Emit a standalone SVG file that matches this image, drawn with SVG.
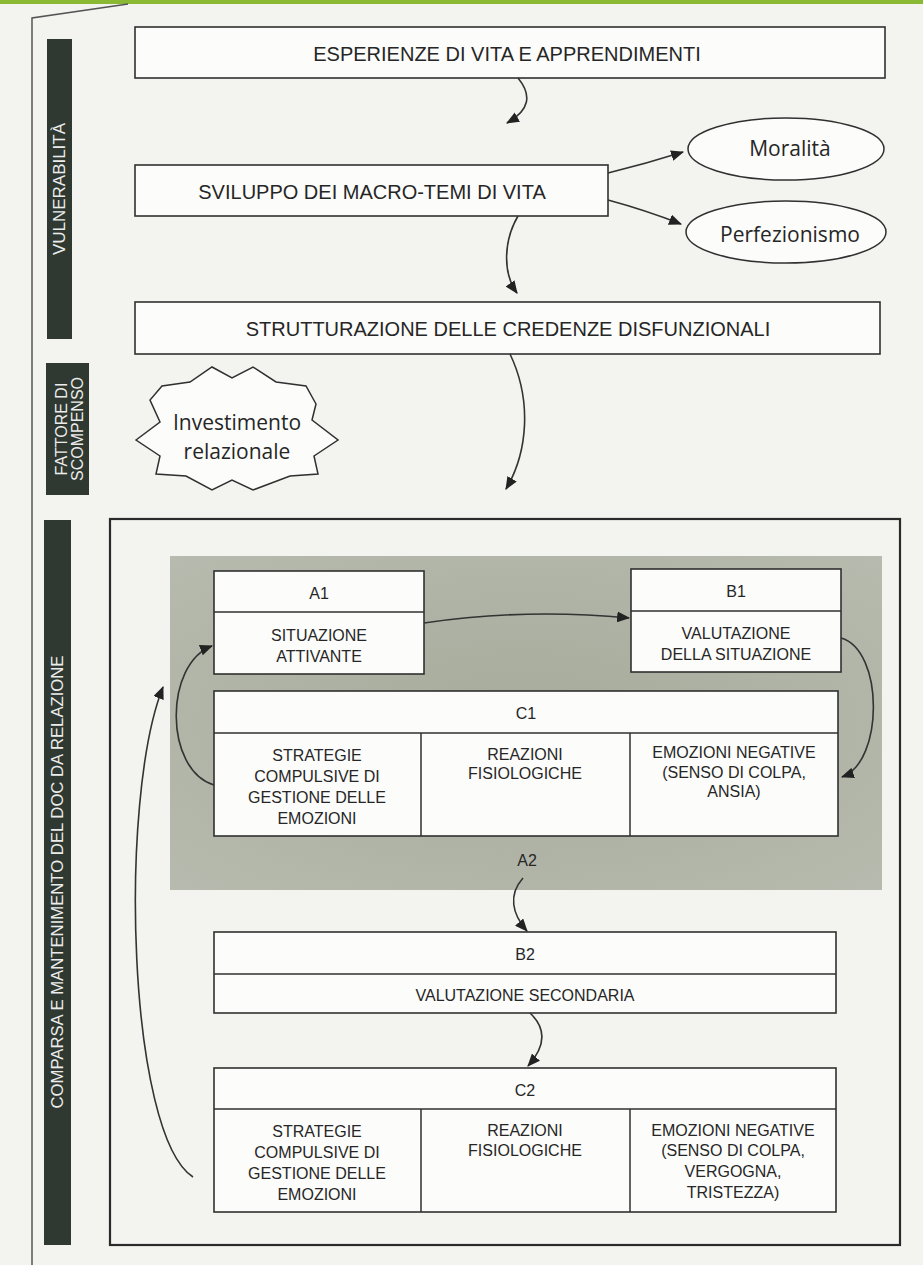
<svg xmlns="http://www.w3.org/2000/svg" width="923" height="1265" viewBox="0 0 923 1265">
<defs>
<style>
.bg{fill:#f3f3f0}
.box{fill:#fcfcfb;stroke:#303030;stroke-width:1.6}
.ln{stroke:#303030;stroke-width:1.5;fill:none}
.bar{fill:#2f3931}
.vt{font-family:"Liberation Sans",Arial,sans-serif;fill:#ececec;font-size:16px;text-anchor:middle;dominant-baseline:central}
.h{font-family:"Liberation Sans",Arial,sans-serif;fill:#262626;font-size:20px;text-anchor:middle;dominant-baseline:central}
.s{font-family:"Liberation Sans",Arial,sans-serif;fill:#262626;font-size:16px;text-anchor:middle;dominant-baseline:central}
.lc{font-family:"Open Sans","Liberation Sans",sans-serif;fill:#262626;font-size:21px;text-anchor:middle;dominant-baseline:central}
.conn{stroke:#333;stroke-width:1.6;fill:none;marker-end:url(#ah)}
</style>
<marker id="ah" viewBox="0 0 12 10" refX="11" refY="5" markerWidth="13" markerHeight="11" markerUnits="userSpaceOnUse" orient="auto">
<path d="M0,0 L12,5 L0,10 Z" fill="#222"/>
</marker>
<radialGradient id="panel" cx="0.5" cy="0.5" r="0.7">
<stop offset="0" stop-color="#a6ab9b"/>
<stop offset="1" stop-color="#b7baae"/>
</radialGradient>
</defs>
<rect class="bg" x="0" y="0" width="923" height="1265"/>
<rect x="0" y="0" width="923" height="4" fill="#8ab933"/>
<path d="M32,1265 L32,18 L128,4" fill="none" stroke="#555" stroke-width="1.5"/>

<g id="label-vulnerabilita">
<rect class="bar" x="47" y="39" width="25" height="300"/>
<text class="vt" transform="translate(59.5,189) rotate(-90)" textLength="132" lengthAdjust="spacingAndGlyphs">VULNERABILITÀ</text>
</g>
<g id="label-fattore">
<rect class="bar" x="46" y="363" width="43" height="132"/>
<text class="vt" font-size="15" transform="translate(61,429) rotate(-90)">FATTORE DI</text>
<text class="vt" font-size="15" transform="translate(77,429) rotate(-90)">SCOMPENSO</text>
</g>
<g id="label-comparsa">
<rect class="bar" x="44" y="520" width="27" height="725"/>
<text class="vt" transform="translate(57.5,882) rotate(-90)" textLength="453" lengthAdjust="spacingAndGlyphs">COMPARSA E MANTENIMENTO DEL DOC DA RELAZIONE</text>
</g>

<g id="esperienze">
<rect class="box" x="135" y="27" width="750" height="51"/>
<text class="h" x="507" y="54">ESPERIENZE DI VITA E APPRENDIMENTI</text>
</g>
<g id="sviluppo">
<rect class="box" x="135" y="165" width="473" height="51"/>
<text class="h" x="372" y="192">SVILUPPO DEI MACRO-TEMI DI VITA</text>
</g>
<g id="moralita">
<ellipse cx="786" cy="149" rx="98" ry="31" fill="#fcfcfb" stroke="#303030" stroke-width="1.5"/>
<text class="lc" x="790" y="148">Moralità</text>
</g>
<g id="perfezionismo">
<ellipse cx="786" cy="232" rx="100" ry="31" fill="#fcfcfb" stroke="#303030" stroke-width="1.5"/>
<text class="lc" x="790" y="234">Perfezionismo</text>
</g>
<g id="strutturazione">
<rect class="box" x="135" y="302" width="745" height="52"/>
<text class="h" x="508" y="329">STRUTTURAZIONE DELLE CREDENZE DISFUNZIONALI</text>
</g>
<g id="investimento">
<polygon points="136,440 160,422 150,400 162,386 190,382 212,367 232,378 253,367 276,382 306,386 316,404 312,420 338,440 314,456 318,474 290,476 253,490 232,480 212,490 186,476 156,474 160,456" fill="#fcfcfb" stroke="#303030" stroke-width="1.5"/>
<text class="lc" x="237" y="422">Investimento</text>
<text class="lc" x="237" y="451">relazionale</text>
</g>

<g id="frame">
<rect x="110" y="519" width="790" height="726" fill="none" stroke="#2a2a2a" stroke-width="2.2"/>
<rect x="170" y="556" width="712" height="334" fill="url(#panel)"/>
</g>

<g id="A1">
<rect class="box" x="214" y="571" width="210" height="103"/>
<line class="ln" x1="214" y1="612" x2="424" y2="612"/>
<text class="s" x="319" y="593">A1</text>
<text class="s" x="319" y="635">SITUAZIONE</text>
<text class="s" x="319" y="656">ATTIVANTE</text>
</g>
<g id="B1">
<rect class="box" x="631" y="569" width="210" height="103"/>
<line class="ln" x1="631" y1="611" x2="841" y2="611"/>
<text class="s" x="736" y="591">B1</text>
<text class="s" x="736" y="633">VALUTAZIONE</text>
<text class="s" x="736" y="654">DELLA SITUAZIONE</text>
</g>
<g id="C1">
<rect class="box" x="214" y="691" width="624" height="145"/>
<line class="ln" x1="214" y1="733" x2="838" y2="733"/>
<line class="ln" x1="421" y1="733" x2="421" y2="836"/>
<line class="ln" x1="630" y1="733" x2="630" y2="836"/>
<text class="s" x="526" y="713">C1</text>
<text class="s" x="317" y="755">STRATEGIE</text>
<text class="s" x="317" y="776">COMPULSIVE DI</text>
<text class="s" x="317" y="797">GESTIONE DELLE</text>
<text class="s" x="317" y="818">EMOZIONI</text>
<text class="s" x="525" y="754">REAZIONI</text>
<text class="s" x="525" y="773">FISIOLOGICHE</text>
<text class="s" x="734" y="752">EMOZIONI NEGATIVE</text>
<text class="s" x="734" y="772">(SENSO DI COLPA,</text>
<text class="s" x="734" y="791">ANSIA)</text>
</g>
<g id="A2">
<text class="s" x="527" y="860">A2</text>
</g>
<g id="B2">
<rect class="box" x="214" y="932" width="622" height="81"/>
<line class="ln" x1="214" y1="974" x2="836" y2="974"/>
<text class="s" x="525" y="954">B2</text>
<text class="s" x="525" y="995">VALUTAZIONE SECONDARIA</text>
</g>
<g id="C2">
<rect class="box" x="214" y="1068" width="622" height="144"/>
<line class="ln" x1="214" y1="1109" x2="836" y2="1109"/>
<line class="ln" x1="421" y1="1109" x2="421" y2="1212"/>
<line class="ln" x1="630" y1="1109" x2="630" y2="1212"/>
<text class="s" x="525" y="1090">C2</text>
<text class="s" x="317" y="1131">STRATEGIE</text>
<text class="s" x="317" y="1152">COMPULSIVE DI</text>
<text class="s" x="317" y="1173">GESTIONE DELLE</text>
<text class="s" x="317" y="1194">EMOZIONI</text>
<text class="s" x="525" y="1130">REAZIONI</text>
<text class="s" x="525" y="1150">FISIOLOGICHE</text>
<text class="s" x="733" y="1130">EMOZIONI NEGATIVE</text>
<text class="s" x="733" y="1150">(SENSO DI COLPA,</text>
<text class="s" x="733" y="1171">VERGOGNA,</text>
<text class="s" x="733" y="1192">TRISTEZZA)</text>
</g>

<g id="connectors">
<path class="conn" d="M518,78 C532,95 530,110 507,123"/>
<path class="conn" d="M608,173 Q645,164 683,152"/>
<path class="conn" d="M608,200 Q645,210 681,224"/>
<path class="conn" d="M518,216 C504,240 502,272 517,293"/>
<path class="conn" d="M510,354 C532,400 528,452 506,489"/>
<path class="conn" d="M424,623 Q525,608 629,618"/>
<path class="conn" d="M841,638 C884,650 884,762 842,777"/>
<path class="conn" d="M214,785 C164,770 164,664 212,646"/>
<path class="conn" d="M523,878 C508,895 512,914 527,931"/>
<path class="conn" d="M530,1013 C546,1028 546,1046 528,1066"/>
<path class="conn" d="M193,1177 C128,1135 118,800 163,687"/>
</g>
</svg>
